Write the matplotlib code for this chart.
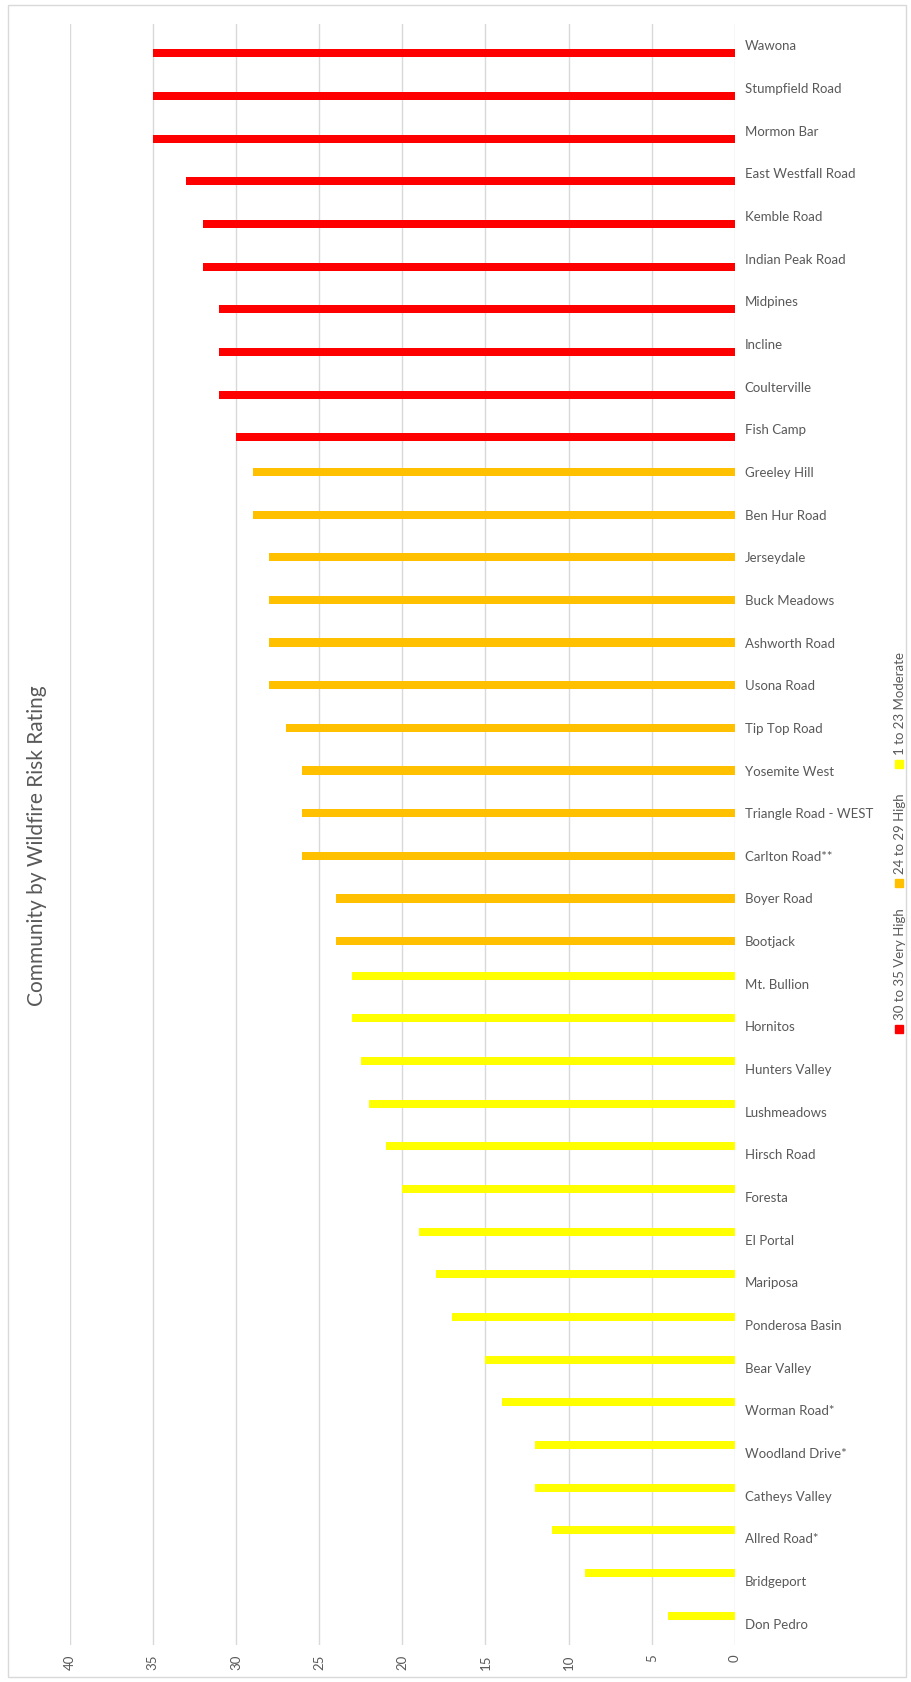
import matplotlib.pyplot as plt
from matplotlib.patches import Rectangle

communities = ['Wawona', 'Stumpfield Road', 'Mormon Bar', 'East Westfall Road', 'Kemble Road',
               'Indian Peak Road', 'Midpines', 'Incline', 'Coulterville', 'Fish Camp',
               'Greeley Hill', 'Ben Hur Road', 'Jerseydale', 'Buck Meadows', 'Ashworth Road',
               'Usona Road', 'Tip Top Road', 'Yosemite West', 'Triangle Road - WEST', 'Carlton Road**',
               'Boyer Road', 'Bootjack', 'Mt. Bullion', 'Hornitos', 'Hunters Valley',
               'Lushmeadows', 'Hirsch Road', 'Foresta', 'El Portal', 'Mariposa',
               'Ponderosa Basin', 'Bear Valley', 'Worman Road*', 'Woodland Drive*', 'Catheys Valley',
               'Allred Road*', 'Bridgeport', 'Don Pedro']
scores = [35, 35, 35, 33, 32, 32, 31, 31, 31, 30,
          29, 29, 28, 28, 28, 28, 27, 26, 26, 26,
          24, 24, 23, 23, 22.5, 22, 21, 20, 19, 18,
          17, 15, 14, 12, 12, 11, 9, 4]

series_names = ['30 to 35 Very High', '24 to 29 High', '1 to 23 Moderate']
series_colors = ['#FF0000', '#FFC000', '#FFFF00']
series_low = [30, 24, 1]

W, H = 911, 1682
fig = plt.figure(figsize=(W / 100, H / 100), dpi=100)
plt.rcParams['font.family'] = ['Lato', 'DejaVu Sans']

def fx(x):
    return x / W

def fy(y):
    return 1 - y / H

# plot area in pixel coords
left, right, top, bottom = 69.6, 735, 24, 1645
ax = fig.add_axes([fx(left), fy(bottom), fx(right - left), (bottom - top) / H])

bw = 0.19
offsets = [bw, 0, -bw]
for s in range(3):
    ys, vs = [], []
    for i, v in enumerate(scores):
        grp = 0 if v >= series_low[0] else (1 if v >= series_low[1] else 2)
        if grp == s:
            ys.append(i + offsets[s])
            vs.append(v)
    ax.barh(ys, vs, height=bw, color=series_colors[s], zorder=3)

ax.set_xlim(40, 0)
ax.set_ylim(len(communities) - 0.5, -0.5)
ax.set_xticks(range(0, 41, 5))
ax.xaxis.grid(True, color='#D9D9D9', linewidth=1.0, zorder=0)
ax.yaxis.tick_right()
ax.set_yticks(range(len(communities)))
ax.set_yticklabels(communities)
ax.tick_params(axis='y', length=0, pad=7, labelsize=9.5, labelcolor='#595959')
ax.tick_params(axis='x', length=0, pad=7, labelsize=9.5, labelcolor='#595959', labelrotation=90)
for sp in ax.spines.values():
    sp.set_visible(False)

# title
fig.text(fx(37), fy(846), 'Community by Wildfire Risk Rating', rotation=90,
         ha='center', va='center', fontsize=15, color='#595959')

# legend, rotated
leg_marker_y = [1029, 883, 764]
for s in range(3):
    my = leg_marker_y[s]
    fig.patches.append(Rectangle((fx(895), fy(my + 4)), 8 / W, 8 / H,
                                 transform=fig.transFigure, color=series_colors[s]))
    fig.text(fx(900), fy(my - 9), series_names[s], rotation=90, ha='center', va='bottom',
             fontsize=9.5, color='#595959')

# chart border
fig.patches.append(Rectangle((fx(8), fy(1677)), (906 - 8) / W, (1677 - 5) / H,
                             transform=fig.transFigure, fill=False, edgecolor='#D9D9D9', linewidth=1))

fig.savefig('out.png', dpi=100)
